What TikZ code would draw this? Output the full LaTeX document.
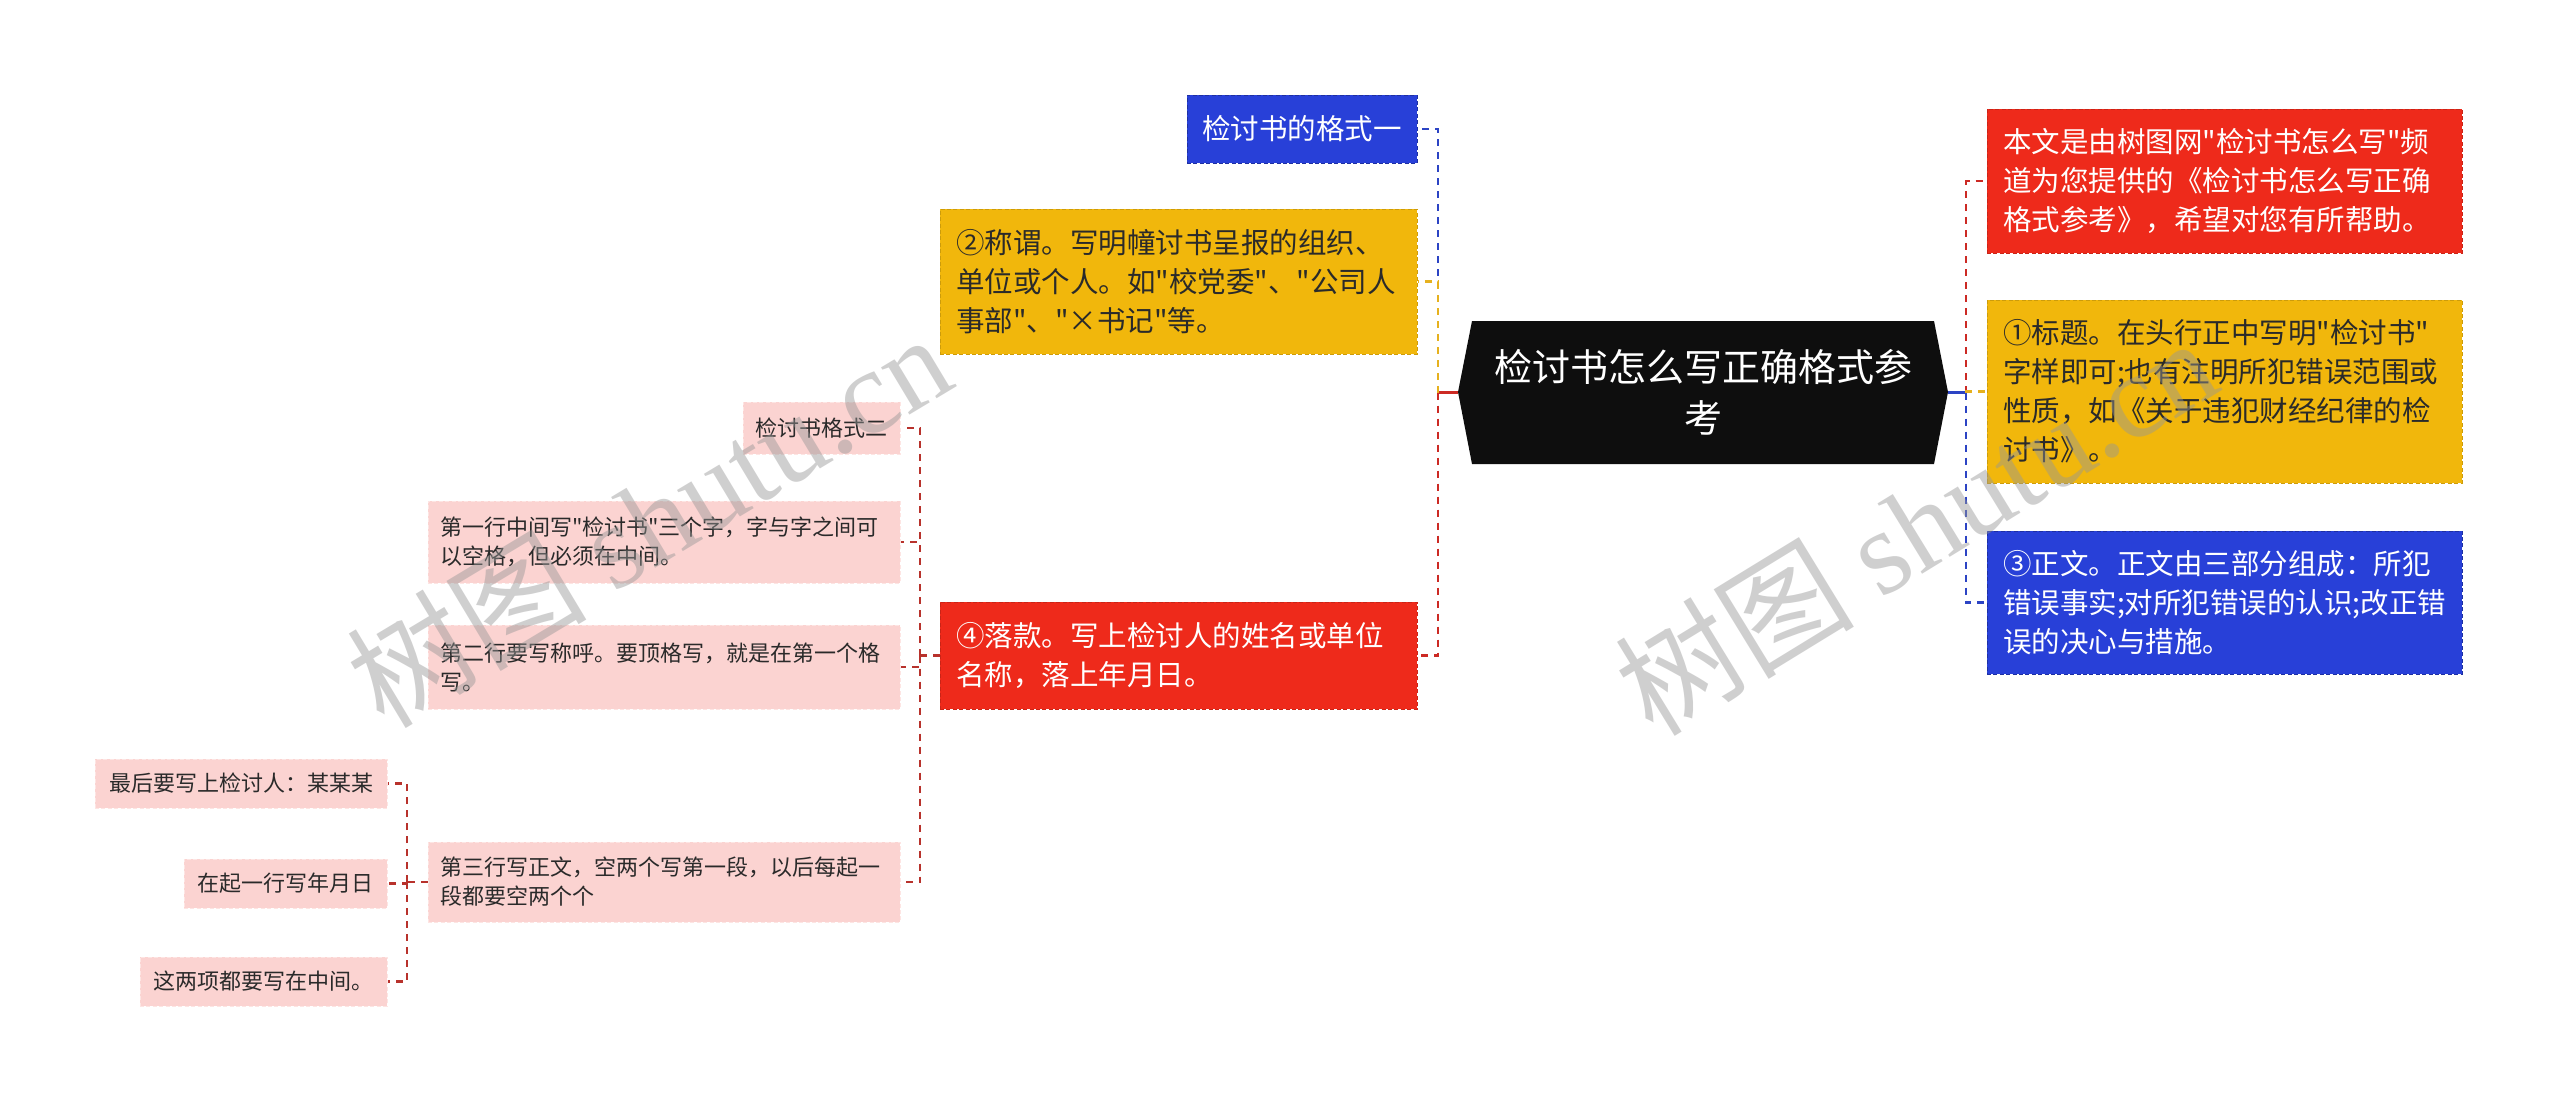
\documentclass[tikz,border=0pt]{standalone}
\usepackage{fontspec}
\newfontfamily\cjk{Noto Sans CJK SC}
\newfontfamily\wmlatin{Liberation Serif}
\definecolor{cblue}{HTML}{2840D8}
\definecolor{cred}{HTML}{EE2A1B}
\definecolor{cyellow}{HTML}{F1B70C}
\definecolor{cpink}{HTML}{FBD3D1}
\definecolor{croot}{HTML}{0E0E0E}
\definecolor{lblue}{HTML}{2C44C4}
\definecolor{lred}{HTML}{CC2A24}
\definecolor{lyellow}{HTML}{E6B11E}
\definecolor{ldred}{HTML}{B8322C}
\definecolor{tdark}{HTML}{2A2A2A}
\definecolor{wmgray}{HTML}{969696}
\begin{document}
\begin{tikzpicture}[x=0.5pt,y=-0.5pt,
  wh/.style 2 args={text width=#1*0.5pt, minimum height=#2*0.5pt},
  edge/.style={draw=#1, dash pattern=on 2pt off 1.2pt, line width=0.5pt},
  lone/.style={rectangle, inner ysep=0pt, inner xsep=8pt, align=left,
    font=\cjk\fontsize{14.25pt}{19.5pt}\selectfont},
  lonew/.style={lone, text=white},
  loned/.style={lone, text=tdark},
  ltwo/.style={rectangle, fill=cpink, edge=cpink!60!white, inner ysep=0pt, inner xsep=6pt, align=left, text=tdark,
    font=\cjk\fontsize{11pt}{14.5pt}\selectfont},
  con/.style={dash pattern=on 3.5pt off 3pt, line width=1.3pt},
  subcon/.style={dash pattern=on 3.5pt off 3pt, line width=1.1pt, draw=ldred},
  stub/.style={line width=1.4pt},
  wm/.style={text=wmgray, text opacity=0.45, inner sep=0pt,
    font=\cjk\fontsize{60pt}{60pt}\selectfont}
]
\useasboundingbox (0,0) rectangle (2560,1104);
\fill[white] (0,0) rectangle (2560,1104);

% root
\fill[croot] (1458,392) -- (1472,321) -- (1934,321) -- (1948,392) -- (1934,464) -- (1472,464) -- cycle;
\node[inner sep=0pt, minimum width=245pt, minimum height=71.5pt, align=center, text=white,
  font=\cjk\fontsize{19pt}{25.3pt}\selectfont] (root) at (1703,392.5) {检讨书怎么写正确格式参\\考};

% left level 1
\node[lonew, fill=cblue, edge=cblue!75!black, inner xsep=6pt, wh={206}{68}, align=center] (b1) at (1302,129) {检讨书的格式一};
\node[loned, fill=cyellow, edge=cyellow!85!black, wh={445}{145}] (y1) at (1178.5,281.5) {②称谓。写明幢讨书呈报的组织、\\单位或个人。如"校党委"、"公司人\\事部"、"×书记"等。};
\node[lonew, fill=cred, edge=cred!85!black, wh={445}{107}] (r1) at (1178.5,655.5) {④落款。写上检讨人的姓名或单位\\名称，落上年月日。};

% right level 1
\node[lonew, fill=cred, edge=cred!85!black, wh={443}{144}] (rr) at (2224.5,181) {本文是由树图网"检讨书怎么写"频\\道为您提供的《检讨书怎么写正确\\格式参考》，希望对您有所帮助。};
\node[loned, fill=cyellow, edge=cyellow!85!black, wh={443}{183}] (ry) at (2224.5,391.5) {①标题。在头行正中写明"检讨书"\\字样即可;也有注明所犯错误范围或\\性质，如《关于违犯财经纪律的检\\讨书》。};
\node[lonew, fill=cblue, edge=cblue!75!black, wh={443}{143}] (rb) at (2224.5,602.5) {③正文。正文由三部分组成：所犯\\错误事实;对所犯错误的认识;改正错\\误的决心与措施。};

% level 2
\node[ltwo, wh={133}{52}, align=center] (p0) at (821.5,428) {检讨书格式二};
\node[ltwo, wh={448}{82}] (p1) at (664,542) {第一行中间写"检讨书"三个字，字与字之间可\\以空格，但必须在中间。};
\node[ltwo, wh={448}{84}] (p2) at (664,667) {第二行要写称呼。要顶格写，就是在第一个格\\写。};
\node[ltwo, wh={448}{80}] (p3) at (664,882) {第三行写正文，空两个写第一段，以后每起一\\段都要空两个个};

% level 3
\node[ltwo, wh={268}{49}, align=center] (q1) at (241,783.5) {最后要写上检讨人：某某某};
\node[ltwo, wh={179}{49}, align=center] (q2) at (285.5,883.5) {在起一行写年月日};
\node[ltwo, wh={223}{49}, align=center] (q3) at (263.5,981.5) {这两项都要写在中间。};

% connectors left of root
\coordinate (jl) at (1438,392.5);
\draw[stub, lred] (root.west) -- (jl);
\draw[con, lblue] (jl) |- (b1.east);
\draw[con, lyellow] (jl) |- (y1.east);
\draw[con, lred] (jl) |- (r1.east);

% connectors right of root
\coordinate (jr) at (1966,392.5);
\draw[stub, lblue] (root.east) -- (jr);
\draw[con, lred] (jr) |- (rr.west);
\draw[con, lyellow] (jr) |- (ry.west);
\draw[con, lblue] (jr) |- (rb.west);

% connectors from r1
\coordinate (j4) at (920,655.5);
\draw[subcon] (r1.west) -- (j4);
\draw[subcon] (j4) |- (p0.east);
\draw[subcon] (j4) |- (p1.east);
\draw[subcon] (j4) |- (p2.east);
\draw[subcon] (j4) |- (p3.east);

% connectors from p3
\coordinate (j3) at (407,882);
\draw[subcon] (p3.west) -- (j3);
\draw[subcon] (j3) |- (q1.east);
\draw[subcon] (j3) |- (q2.east);
\draw[subcon] (j3) |- (q3.east);

% watermarks
\node[wm, rotate=31] (wm1) at (648,519) {树图 {\wmlatin shutu.cn}};
\node[wm, rotate=31.5] (wm2) at (1915,525) {树图 {\wmlatin shutu.cn}};
\end{tikzpicture}
\end{document}
